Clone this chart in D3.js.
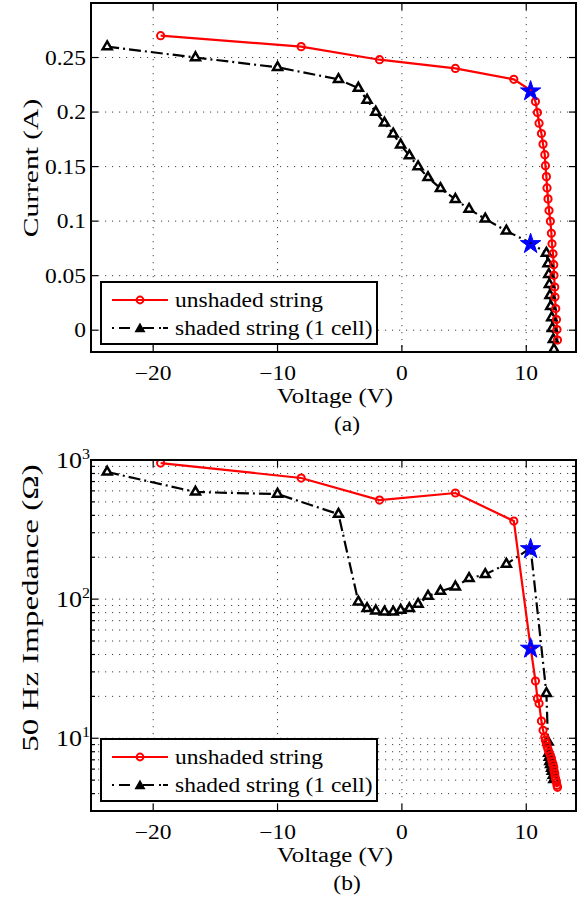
<!DOCTYPE html>
<html>
<head>
<meta charset="utf-8">
<script src="https://cdn.jsdelivr.net/npm/d3@7"></script>
<style>
  body { margin: 0; background: #fff; }
  svg { display: block; }
  text { font-family: "Liberation Serif", "Times New Roman", serif; fill: #000; }
</style>
</head>
<body>
<svg id="fig"></svg>
<script>
// values
const unshadedV = [-19.4, -8.1, -1.8, 4.3, 9.0, 10.35,
  10.74, 10.90, 11.03, 11.22, 11.35, 11.49, 11.54, 11.62, 11.67, 11.75, 11.83, 11.94,
  12.02, 12.07, 12.15, 12.21, 12.23, 12.29, 12.31, 12.37, 12.43, 12.47, 12.51];
const unshadedI = [0.270, 0.260, 0.248, 0.240, 0.230, 0.220,
  0.2096, 0.1995, 0.1898, 0.1803, 0.1706, 0.1609, 0.1508, 0.1408, 0.1304, 0.1204, 0.1097, 0.0999,
  0.0889, 0.0792, 0.0701, 0.0601, 0.0503, 0.0396, 0.0304, 0.0198, 0.0098, 0.0006, -0.0091];
const unshadedZ = [951, 742, 515, 579, 364, 44.9,
  25.8, 19.3, 17.8, 13.3, 11.4, 10.2, 9.68, 9.21, 8.76, 8.33, 7.93, 7.55,
  7.18, 6.83, 6.50, 6.18, 5.88, 5.60, 5.33, 5.07, 4.82, 4.59, 4.44];

const shadedV = [-23.7, -16.6, -10.0, -5.1, -3.5, -2.8, -2.1, -1.4, -0.7, -0.1, 0.6, 1.3,
  2.1, 3.1, 4.3, 5.4, 6.7, 8.4, 10.35,
  11.62, 11.75, 11.81, 11.86, 11.91, 11.97, 12.05, 12.10, 12.18, 12.23];
const shadedI = [0.260, 0.250, 0.241, 0.230, 0.222, 0.211, 0.200, 0.190, 0.180, 0.170, 0.160, 0.150,
  0.140, 0.130, 0.120, 0.111, 0.102, 0.091, 0.080,
  0.0707, 0.0610, 0.0512, 0.0420, 0.0320, 0.0219, 0.0116, 0.0016, -0.0085, -0.0176];
const shadedZ = [820, 589, 569, 408, 95.6, 85.7, 82.4, 81, 81, 83.3, 85.7, 92,
  105, 114, 122.6, 141, 150.5, 178.6, 233,
  21.0, 9.4, 7.80, 7.30, 6.83, 6.50, 6.09, 5.79, 5.42, 5.07];

const starIdxUnshaded = 5;
const starIdxShaded = 18;

const xTicks = [-20, -10, 0, 10];
const xTickLabels = ["\u221220", "\u221210", "0", "10"];
const iTicks = [0, 0.05, 0.1, 0.15, 0.2, 0.25];
const iTickLabels = ["0", "0.05", "0.1", "0.15", "0.2", "0.25"];
const zTicks = [10, 100, 1000];
const zTickExp = ["1", "2", "3"];
const legendLabels = ["unshaded string", "shaded string (1 cell)"];

const W = 586, H = 901;
const svg = d3.select("#fig").attr("width", W).attr("height", H);
svg.append("rect").attr("width", W).attr("height", H).attr("fill", "#fff");

// glyphs in the figure are flatter than the font; vertical labels even more so
function txt(g, x, y, str, size, anchor, rotate, squash) {
  return g.append("text")
    .attr("transform", `translate(${x},${y})` + (rotate ? " rotate(-90)" : "") + ` scale(1,${squash || 0.85})`)
    .attr("font-size", size)
    .attr("text-anchor", anchor || "middle")
    .text(str);
}

const triPath = r => `M0,${-r}L${r * 0.866},${r * 0.5}L${-r * 0.866},${r * 0.5}Z`;
const star = d3.symbol(d3.symbolStar).size(128)();

function panel(opts) {
  const { id, top, bottom, yScale, yVals, ylabel, caption } = opts;
  const left = 91, right = 576;
  const x = d3.scaleLinear().domain([-25, 14]).range([left, right]);
  const y = yScale.range([bottom, top]);
  const g = svg.append("g");

  g.append("clipPath").attr("id", "clip" + id)
    .append("rect").attr("x", left).attr("y", top).attr("width", right - left).attr("height", bottom - top);

  // grid
  const grid = g.append("g").attr("stroke", "#444").attr("stroke-width", 1).attr("stroke-dasharray", "1.2,5.8");
  grid.selectAll("line.v").data(xTicks).join("line")
    .attr("x1", d => x(d)).attr("x2", d => x(d)).attr("y1", top).attr("y2", bottom);
  grid.selectAll("line.h").data(opts.gridY).join("line")
    .attr("x1", left).attr("x2", right).attr("y1", d => y(d)).attr("y2", d => y(d));

  const data = g.append("g").attr("clip-path", `url(#clip${id})`);

  const ptsU = unshadedV.map((v, i) => [v, yVals.unshaded[i]]);
  const ptsS = shadedV.map((v, i) => [v, yVals.shaded[i]]);
  const line = d3.line().x(d => x(d[0])).y(d => y(d[1]));

  data.append("path").datum(ptsS).attr("d", line)
    .attr("fill", "none").attr("stroke", "#000").attr("stroke-width", 2.2)
    .attr("stroke-dasharray", "12,4,2,4");
  data.append("path").datum(ptsU).attr("d", line)
    .attr("fill", "none").attr("stroke", "#f00").attr("stroke-width", 2.2);

  data.selectAll("path.tri").data(ptsS.filter((d, i) => i !== starIdxShaded)).join("path")
    .attr("transform", d => `translate(${x(d[0])},${y(d[1])})`)
    .attr("d", triPath(5.2))
    .attr("fill", "#fff").attr("stroke", "#000").attr("stroke-width", 2.5);
  data.selectAll("circle.mk").data(ptsU.filter((d, i) => i !== starIdxUnshaded)).join("circle")
    .attr("cx", d => x(d[0])).attr("cy", d => y(d[1])).attr("r", 3.6)
    .attr("fill", "none").attr("stroke", "#f00").attr("stroke-width", 2);

  // operating points
  [[ptsU[starIdxUnshaded], "#f00"], [ptsS[starIdxShaded], "#000"]].forEach(([p, c]) => {
    data.append("path").attr("d", star)
      .attr("transform", `translate(${x(p[0])},${y(p[1]) + 1})`)
      .attr("fill", "#00f").attr("stroke", "#00f").attr("stroke-width", 1);
    data.append("circle").attr("cx", x(p[0])).attr("cy", y(p[1])).attr("r", 1).attr("fill", c);
  });

  // ticks
  const tk = g.append("g").attr("stroke", "#000").attr("stroke-width", 1.2);
  xTicks.forEach(t => {
    tk.append("line").attr("x1", x(t)).attr("x2", x(t)).attr("y1", bottom).attr("y2", bottom - 7);
    tk.append("line").attr("x1", x(t)).attr("x2", x(t)).attr("y1", top).attr("y2", top + 7);
  });
  opts.yTicks.forEach(t => {
    tk.append("line").attr("x1", left).attr("x2", left + 7).attr("y1", y(t)).attr("y2", y(t));
    tk.append("line").attr("x1", right).attr("x2", right - 7).attr("y1", y(t)).attr("y2", y(t));
  });
  (opts.minorY || []).forEach(t => {
    tk.append("line").attr("x1", left).attr("x2", left + 4).attr("y1", y(t)).attr("y2", y(t));
    tk.append("line").attr("x1", right).attr("x2", right - 4).attr("y1", y(t)).attr("y2", y(t));
  });

  // box
  g.append("rect").attr("x", left).attr("y", top).attr("width", right - left).attr("height", bottom - top)
    .attr("fill", "none").attr("stroke", "#000").attr("stroke-width", 2);

  // tick labels
  xTicks.forEach((t, i) => txt(g, x(t), bottom + 28, xTickLabels[i], 23.5));
  opts.yLabelFn(g, y, left);

  txt(g, 335, bottom + 51, "Voltage (V)", 24.8);
  txt(g, 347, bottom + 79, caption, 23.5);
  txt(g, 38, opts.ylabelY, ylabel, opts.ylabelSize, "middle", true, 0.7);

  // legend
  const lx = 101, ly = opts.legendTop, lw = 276, lh = 62;
  const lg = g.append("g");
  lg.append("rect").attr("x", lx).attr("y", ly).attr("width", lw).attr("height", lh)
    .attr("fill", "#fff").attr("stroke", "#000").attr("stroke-width", 2);
  const r1 = ly + 18, r2 = ly + 46;
  lg.append("line").attr("x1", lx + 11).attr("x2", lx + 67).attr("y1", r1).attr("y2", r1)
    .attr("stroke", "#f00").attr("stroke-width", 2.2);
  lg.append("circle").attr("cx", lx + 39).attr("cy", r1).attr("r", 3.4)
    .attr("fill", "none").attr("stroke", "#f00").attr("stroke-width", 2);
  lg.append("line").attr("x1", lx + 11).attr("x2", lx + 67).attr("y1", r2).attr("y2", r2)
    .attr("stroke", "#000").attr("stroke-width", 2.2).attr("stroke-dasharray", "2,5,11,13,11,5,2");
  lg.append("path").attr("transform", `translate(${lx + 39},${r2 + 1})`).attr("d", triPath(5))
    .attr("fill", "#000").attr("stroke", "#000").attr("stroke-width", 1.4);
  txt(lg, lx + 74, r1 + 7, legendLabels[0], 23.5, "start");
  txt(lg, lx + 74, r2 + 7, legendLabels[1], 23.5, "start");
}

// (a) current vs voltage
panel({
  id: "a", top: 3, bottom: 352,
  yScale: d3.scaleLinear().domain([-0.02, 0.3]),
  yVals: { unshaded: unshadedI, shaded: shadedI },
  gridY: iTicks, yTicks: iTicks,
  yLabelFn: (g, y, left) => iTicks.forEach((t, i) => txt(g, left - 5, y(t) + 7, iTickLabels[i], 23.5, "end")),
  ylabel: "Current (A)", ylabelY: 168, ylabelSize: 29.5, caption: "(a)", legendTop: 282
});

// (b) impedance vs voltage, log axis
const zScale = d3.scaleLog().domain([3, 1000]);
const zMinor = zScale.ticks().filter(d => zTicks.indexOf(d) < 0);
panel({
  id: "b", top: 460, bottom: 811,
  yScale: zScale,
  yVals: { unshaded: unshadedZ, shaded: shadedZ },
  gridY: zScale.ticks(), yTicks: zTicks, minorY: zMinor,
  yLabelFn: (g, y, left) => zTicks.forEach((t, i) => {
    txt(g, left - 9, y(t) + 8, "10", 26, "end");
    txt(g, left - 9, y(t) - 1, zTickExp[i], 16, "start");
  }),
  ylabel: "50 Hz Impedance (\u03a9)", ylabelY: 608, ylabelSize: 33, caption: "(b)", legendTop: 739
});
</script>
</body>
</html>
